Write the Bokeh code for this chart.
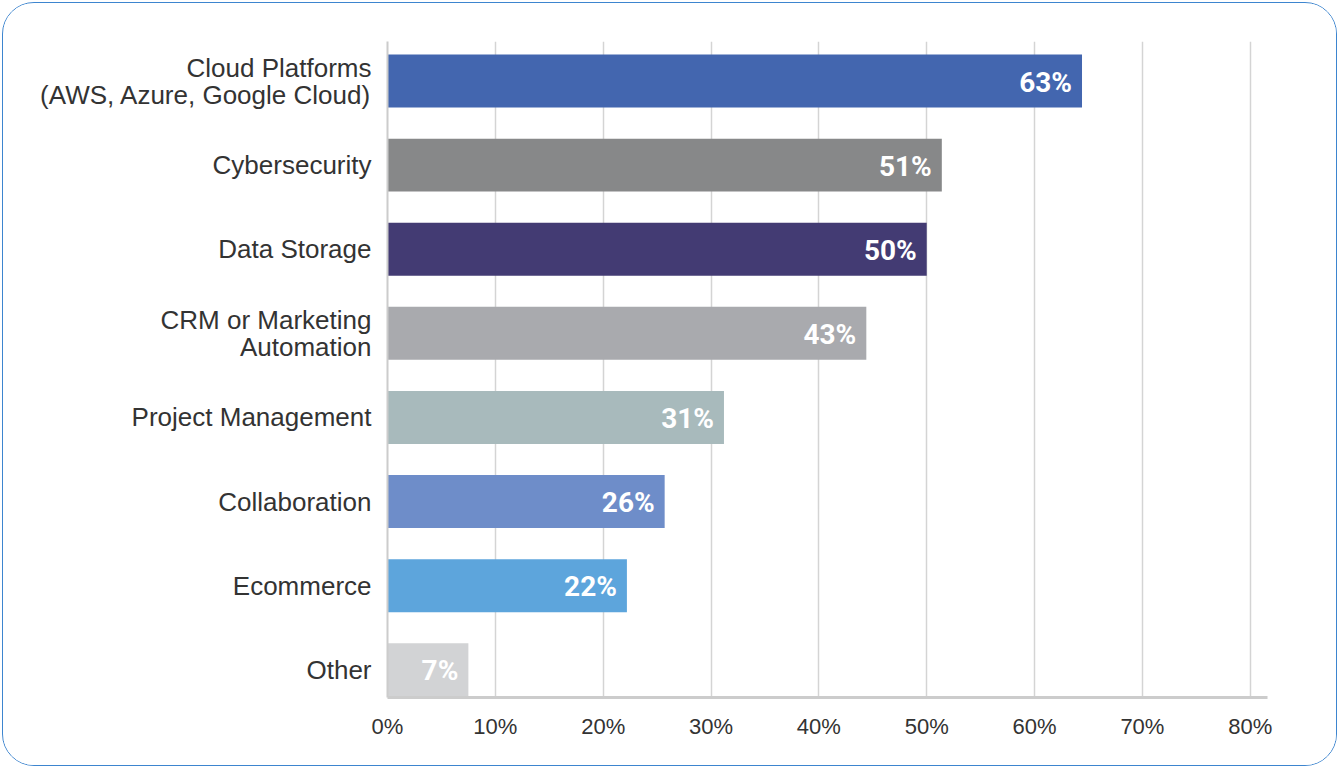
from bokeh.plotting import figure
from bokeh.models import ColumnDataSource, LabelSet, Range1d, FixedTicker
from bokeh.core.properties import value
from bokeh.embed import file_html
from bokeh.resources import INLINE

categories = [
    "Cloud Platforms\n(AWS, Azure, Google Cloud)",
    "Cybersecurity",
    "Data Storage",
    "CRM or Marketing\nAutomation",
    "Project Management",
    "Collaboration",
    "Ecommerce",
    "Other",
]
bar_values = [64.4, 51.4, 50.0, 44.4, 31.2, 25.7, 22.2, 7.5]
value_labels = ["63%", "51%", "50%", "43%", "31%", "26%", "22%", "7%"]
colors = ["#4366AF", "#878889", "#433B73", "#A9AAAE", "#A8BABC", "#6E8DC9", "#5DA5DC", "#D2D3D5"]
x_ticks = [0, 10, 20, 30, 40, 50, 60, 70, 80]
x_tick_labels = ["0%", "10%", "20%", "30%", "40%", "50%", "60%", "70%", "80%"]

positions = list(range(len(categories)))
src = ColumnDataSource(dict(
    cat=categories, pos=positions, val=bar_values, lab=value_labels,
    color=colors,
))

p = figure(
    width=1335, height=764, output_backend="svg", toolbar_location=None,
    x_range=Range1d(0, 81.6), y_range=Range1d(7.33, -0.47),
    min_border_left=384, min_border_right=71, min_border_top=38, min_border_bottom=70,
)
p.margin = (2, 2, 0, 2)
p.styles = {"border": "1.5px solid #3d85cf", "border-radius": "32px", "overflow": "hidden"}
p.outline_line_color = None
p.background_fill_color = "white"
p.border_fill_color = "white"

p.hbar(y="pos", left=0, right="val", height=0.63, fill_color="color", line_color=None, source=src)

# y axis with category names
p.yaxis.ticker = FixedTicker(ticks=positions)
p.yaxis.major_label_overrides = {i: c for i, c in zip(positions, categories)}
p.yaxis.axis_line_color = "#cccccc"
p.yaxis.axis_line_width = 2
p.yaxis.major_tick_line_color = None
p.yaxis.minor_tick_line_color = None
p.yaxis.major_label_text_font = "Liberation Sans"
p.yaxis.major_label_text_font_size = "26px"
p.yaxis.major_label_text_color = "#333333"
p.yaxis.major_label_text_line_height = 0.9
p.yaxis.major_label_standoff = 10
p.ygrid.grid_line_color = None

# x axis
p.xaxis.ticker = FixedTicker(ticks=x_ticks)
p.xaxis.major_label_overrides = {t: l for t, l in zip(x_ticks, x_tick_labels)}
p.xaxis.axis_line_color = "#cccccc"
p.xaxis.axis_line_width = 3
p.xaxis.major_tick_line_color = None
p.xaxis.minor_tick_line_color = None
p.xaxis.major_label_text_font = "Liberation Sans"
p.xaxis.major_label_text_font_size = "22px"
p.xaxis.major_label_text_color = "#333333"
p.xaxis.major_label_standoff = 10
p.xgrid.ticker = FixedTicker(ticks=x_ticks)
p.xgrid.grid_line_color = "#d4d4d4"
p.xgrid.grid_line_width = 1.5

val_labels = LabelSet(
    x="val", y="pos", text="lab", source=src, x_offset=-10, y_offset=-1,
    text_align="right", text_baseline="middle",
    text_font=value("Roboto"),
    text_font_style="bold", text_font_size=value("28px"), text_color="white",
)
p.add_layout(val_labels)

open("out.html", "w").write(file_html(p, INLINE))
